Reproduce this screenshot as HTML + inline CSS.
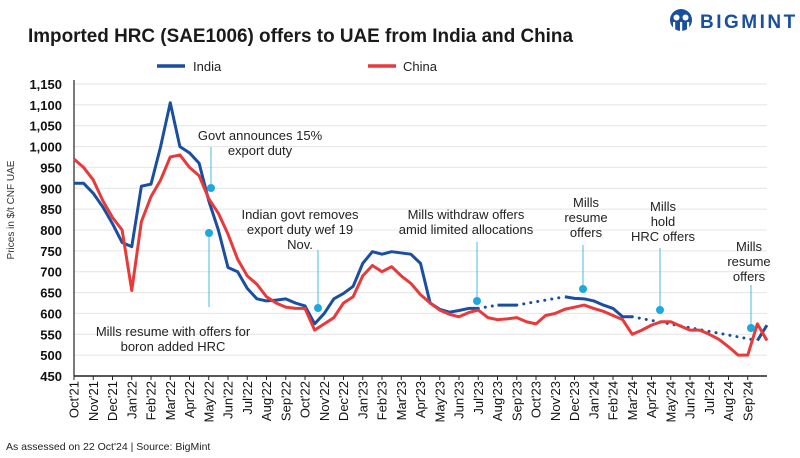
<!DOCTYPE html>
<html><head><meta charset="utf-8">
<style>
html,body{margin:0;padding:0;background:#fff;}
body{width:800px;height:458px;overflow:hidden;font-family:"Liberation Sans",sans-serif;}
svg{display:block}
</style></head>
<body>
<svg id="chart" width="800" height="458" viewBox="0 0 800 458">
  <text x="28" y="42" font-size="19" font-weight="bold" fill="#1a1a1a" textLength="545" lengthAdjust="spacingAndGlyphs">Imported HRC (SAE1006) offers to UAE from India and China</text>
  <g>
    <circle cx="681" cy="20" r="11" fill="#1a4fa0"/>
    <circle cx="676.5" cy="17.5" r="3" fill="#fff"/><circle cx="685.5" cy="17.5" r="3" fill="#fff"/>
    <rect x="673" y="22" width="2.2" height="10" fill="#fff"/><rect x="680" y="22" width="2.2" height="11" fill="#fff"/><rect x="687" y="22" width="2.2" height="10" fill="#fff"/>
    <text x="700" y="28" font-size="19" font-weight="bold" fill="#1a4fa0" letter-spacing="2.5">BIGMINT</text>
  </g>
  <g>
    <g><line x1="157" y1="66" x2="185" y2="66" stroke="#1a4fa0" stroke-width="3.5"/><text x="193" y="71" font-size="13" fill="#222">India</text></g>
    <g><line x1="368" y1="66" x2="396" y2="66" stroke="#e83a3a" stroke-width="3.5"/><text x="403" y="71" font-size="13" fill="#222">China</text></g>
  </g>
  <text transform="translate(14,210) rotate(-90)" text-anchor="middle" font-size="10" fill="#333">Prices in $/t CNF UAE</text>
  <g id="grid"></g><g id="yticks"></g><g id="xticks"></g><g id="series"></g><g id="annots"></g>
  <text x="6" y="450" font-size="10.5" fill="#222">As assessed on 22 Oct'24 | Source: BigMint</text>
</svg>
<script>
const months=["Oct'21","Nov'21","Dec'21","Jan'22","Feb'22","Mar'22","Apr'22","May'22","Jun'22","Jul'22","Aug'22","Sep'22","Oct'22","Nov'22","Dec'22","Jan'23","Feb'23","Mar'23","Apr'23","May'23","Jun'23","Jul'23","Aug'23","Sep'23","Oct'23","Nov'23","Dec'23","Jan'24","Feb'24","Mar'24","Apr'24","May'24","Jun'24","Jul'24","Aug'24","Sep'24"];
const yTicks=[450,500,550,600,650,700,750,800,850,900,950,1000,1050,1100,1150];
// half-month values
const india=[912,912,888,855,815,770,760,905,910,1000,1105,1000,985,960,870,800,710,700,660,635,630,632,635,625,618,575,600,635,648,665,720,748,742,748,745,742,720,625,610,603,607,612,612,null,620,620,620,null,null,null,null,640,636,635,630,620,612,592,592,null,null,null,null,null,null,null,null,null,null,null,null,535,572];
const china=[970,950,920,870,830,800,655,820,880,920,975,980,950,930,875,840,790,730,690,670,640,625,615,612,612,560,575,590,625,640,690,715,700,712,690,672,645,625,608,598,592,602,608,590,585,587,590,580,575,595,600,610,615,620,612,605,595,585,550,560,572,580,580,570,560,560,550,538,520,500,500,575,535];
const annotations=[
 {lines:["Govt announces 15%","export duty"],tx:260,ty:140,lx:211,l1:147,l2:188,dot:188},
 {lines:["Mills resume with offers for","boron added HRC"],tx:173,ty:336,lx:209,l1:233,l2:307,dot:233},
 {lines:["Indian govt removes","export duty wef 19","Nov."],tx:300,ty:219,lx:318,l1:250,l2:307,dot:308},
 {lines:["Mills withdraw offers","amid limited allocations"],tx:466,ty:219,lx:477,l1:242,l2:300,dot:301},
 {lines:["Mills","resume","offers"],tx:586,ty:207,lx:583,l1:245,l2:287,dot:289},
 {lines:["Mills","hold","HRC offers"],tx:663,ty:211,lx:660,l1:248,l2:308,dot:310},
 {lines:["Mills","resume","offers"],tx:749,ty:251,lx:751,l1:285,l2:327,dot:328}
];
const NS="http://www.w3.org/2000/svg";
const X0=74,X1=767,Y0=376,Y1=84,VMIN=450,VMAX=1150,STEP=19.25;
const xs=m=>X0+m*STEP, ys=v=>Y0-(v-VMIN)/(VMAX-VMIN)*(Y0-Y1);
function mk(t,a,p){const e=document.createElementNS(NS,t);for(const k in a)e.setAttribute(k,a[k]);p.appendChild(e);return e;}
const grid=document.getElementById('grid'),yt=document.getElementById('yticks'),xt=document.getElementById('xticks'),ser=document.getElementById('series'),an=document.getElementById('annots');
yTicks.forEach(v=>{
  if(v>VMIN){const g=mk('line',{x1:X0,x2:X1,y1:ys(v),y2:ys(v),stroke:'#e4e4e4','stroke-width':1},grid);
  
  }
  const t=mk('text',{x:62,y:ys(v)+5,'text-anchor':'end','font-size':13,'font-weight':'bold',fill:'#111'},yt);
  t.textContent=v.toLocaleString('en-US');
  
  
});
const ax=mk('line',{x1:X0,x2:X1,y1:Y0,y2:Y0,stroke:'#222','stroke-width':1.5},xt);


const ax2=mk('line',{x1:X0,x2:X0,y1:Y1-4,y2:Y0,stroke:'#222','stroke-width':1.2},xt);


months.forEach((m,i)=>{
  const x=xs(i);
  mk('line',{x1:x,x2:x,y1:Y0,y2:Y0+4,stroke:'#222','stroke-width':1},xt);
  const t=mk('text',{transform:`translate(${x+4.5},${Y0+5}) rotate(-90)`,'text-anchor':'end','font-size':13,fill:'#111'},xt);
  t.textContent=m;
  
  
});
function drawSeries(vals,color,name){
  let segs=[],cur=[],lastPt=null,gaps=[];
  vals.forEach((v,i)=>{
    if(v==null){if(cur.length){segs.push(cur);cur=[];}return;}
    const p=[xs(i/2),ys(v)];
    if(!cur.length&&lastPt&&i-lastPt.i>1)gaps.push([lastPt.p,p]);
    cur.push(p);lastPt={i,p};
  });
  if(cur.length)segs.push(cur);
  gaps.forEach(g=>{const l=mk('line',{x1:g[0][0],y1:g[0][1],x2:g[1][0],y2:g[1][1],stroke:color,'stroke-width':3,'stroke-dasharray':'0.1 7','stroke-linecap':'round'},ser);
    
    });
  segs.forEach(s=>{const p=mk('polyline',{points:s.map(q=>q.join(',')).join(' '),fill:'none',stroke:color,'stroke-width':3,'stroke-linejoin':'round'},ser);
    
    });
}
drawSeries(india,'#1a4fa0','india');
drawSeries(china,'#e83a3a','china');
annotations.forEach((a,k)=>{
  const g=mk('g',{},an);
  
  
  mk('line',{x1:a.lx,x2:a.lx,y1:a.l1,y2:a.l2,stroke:'#4ab8e0','stroke-width':1},g);
  mk('circle',{cx:a.lx,cy:a.dot,r:4,fill:'#1ea8e0'},g);
  a.lines.forEach((s,j)=>{const t=mk('text',{x:a.tx,y:a.ty+j*15,'text-anchor':'middle','font-size':13,fill:'#222'},g);t.textContent=s;});
});
</script>
</body></html>
